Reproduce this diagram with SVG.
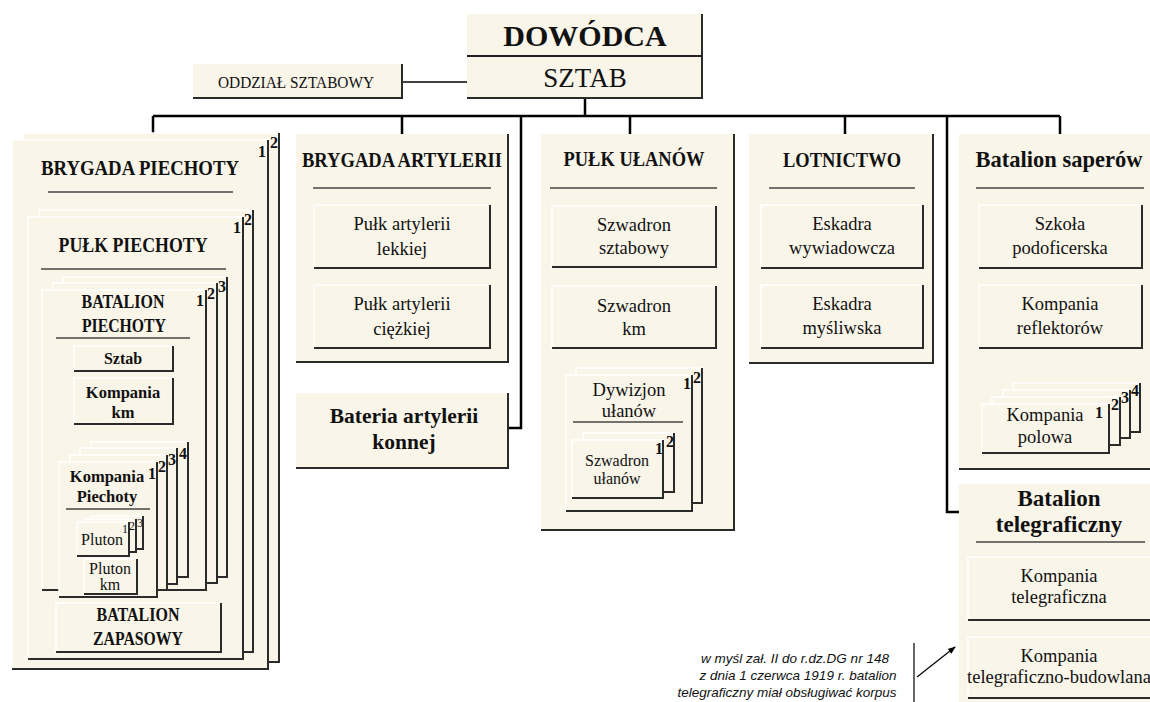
<svg xmlns="http://www.w3.org/2000/svg" width="1150" height="702" viewBox="0 0 1150 702">
<defs>
<style>
.c{fill:#f9f5e9}
.sh{fill:none;stroke:#2b2b2b;stroke-width:2}
.hl{fill:none;stroke:#ffffff;stroke-width:1.5}
.dv{stroke:#444;stroke-width:1.5}
.conn{fill:none;stroke:#000;stroke-width:2.5}
.thin{fill:none;stroke:#000;stroke-width:1.5}
text{font-family:"Liberation Serif",serif;fill:#111;text-anchor:middle}
.b{font-weight:bold}
.s18{font-size:18.5px}
.s16{font-size:16px}
.n{font-size:16px;font-weight:bold}
.ns{font-size:12px}
.note{font-family:"Liberation Sans",Arial,sans-serif;font-style:italic;font-size:13.5px}
</style>
<marker id="ah" markerWidth="8" markerHeight="8" refX="7" refY="4" orient="auto" markerUnits="userSpaceOnUse">
<path d="M0,1 L8,4 L0,7 Z" fill="#000"/>
</marker>
</defs>
<rect width="1150" height="702" fill="#fff"/>

<g id="connectors">
<path class="conn" d="M585,98 V116"/>
<path class="conn" d="M153,116 H1060"/>
<path class="conn" d="M153,116 V133"/>
<path class="conn" d="M402,116 V134"/>
<path class="conn" d="M521,116 V428 H508"/>
<path class="conn" d="M630,116 V134"/>
<path class="conn" d="M845,116 V134"/>
<path class="conn" d="M947,116 V512 H959"/>
<path class="conn" d="M1060,116 V134"/>
<path class="thin" d="M402,82 H467"/>
</g>

<g id="dowodca">
<rect class="c" x="467" y="14" width="235" height="84"/>
<path class="sh" d="M702,14 V98 H467"/>
<path class="dv" d="M467,56 H702" style="stroke:#222;stroke-width:2"/>
<text class="b" x="585" y="46" style="font-size:30px">DOWÓDCA</text>
<text x="585" y="87" style="font-size:27px">SZTAB</text>
</g>

<g id="oddzial">
<rect class="c" x="193" y="64" width="209" height="34"/>
<path class="sh" d="M402,64 V98 H193"/>
<text x="296" y="88" style="font-size:17.5px" textLength="156" lengthAdjust="spacingAndGlyphs">ODDZIAŁ SZTABOWY</text>
</g>

<g id="brygada-piechoty">
<rect class="c" x="23" y="133" width="256" height="529"/><path class="hl" d="M23,662 V133 H279"/><path class="sh" d="M279,133 V662 H23"/>
<rect class="c" x="12" y="140" width="256" height="529"/><path class="hl" d="M12,669 V140 H268"/><path class="sh" d="M268,140 V669 H12"/>
<text class="n" x="262" y="157">1</text><text class="n" x="274" y="148">2</text>
<text class="b" x="140" y="175" style="font-size:20.5px" textLength="198" lengthAdjust="spacingAndGlyphs">BRYGADA PIECHOTY</text>
<path class="dv" d="M48,192 H233"/>

<g id="pulk-piechoty">
<rect class="c" x="39" y="210" width="214" height="442"/><path class="hl" d="M39,652 V210 H253"/><path class="sh" d="M253,210 V652 H39"/>
<rect class="c" x="28" y="217" width="215" height="442"/><path class="hl" d="M28,659 V217 H243"/><path class="sh" d="M243,217 V659 H28"/>
<text class="n" x="237" y="233">1</text><text class="n" x="248" y="225">2</text>
<text class="b" x="133" y="252" style="font-size:20.5px" textLength="149" lengthAdjust="spacingAndGlyphs">PUŁK PIECHOTY</text>
<path class="dv" d="M41,269 H226"/>
</g>

<g id="batalion-piechoty">
<rect class="c" x="63" y="277" width="164" height="300"/><path class="hl" d="M63,577 V277 H227"/><path class="sh" d="M227,277 V577 H63"/>
<rect class="c" x="53" y="283" width="164" height="300"/><path class="hl" d="M53,583 V283 H217"/><path class="sh" d="M217,283 V583 H53"/>
<rect class="c" x="42" y="290" width="164" height="300"/><path class="hl" d="M42,590 V290 H206"/><path class="sh" d="M206,290 V590 H42"/>
<text class="n" x="200" y="306">1</text><text class="n" x="211" y="299">2</text><text class="n" x="222" y="292">3</text>
<text class="b" x="123" y="308" style="font-size:18px" textLength="83" lengthAdjust="spacingAndGlyphs">BATALION</text>
<text class="b" x="124" y="332" style="font-size:18px" textLength="84" lengthAdjust="spacingAndGlyphs">PIECHOTY</text>
<path class="dv" d="M56,338 H190"/>
</g>

<g id="sztab">
<rect class="c" x="74" y="346" width="99" height="25"/><path class="hl" d="M74,371 V346 H173"/><path class="sh" d="M173,346 V371 H74"/>
<text class="b s16" x="123" y="364">Sztab</text>
</g>

<g id="kompania-km">
<rect class="c" x="74" y="378" width="99" height="46"/><path class="hl" d="M74,424 V378 H173"/><path class="sh" d="M173,378 V424 H74"/>
<text class="b" x="123" y="398" style="font-size:16.5px">Kompania</text>
<text class="b" x="123" y="418" style="font-size:16.5px">km</text>
</g>

<g id="kompania-piechoty">
<rect class="c" x="91" y="442" width="97" height="135"/><path class="hl" d="M91,577 V442 H188"/><path class="sh" d="M188,442 V577 H91"/>
<rect class="c" x="80" y="448" width="97" height="136"/><path class="hl" d="M80,584 V448 H177"/><path class="sh" d="M177,448 V584 H80"/>
<rect class="c" x="70" y="455" width="97" height="135"/><path class="hl" d="M70,590 V455 H167"/><path class="sh" d="M167,455 V590 H70"/>
<rect class="c" x="59" y="462" width="98" height="135"/><path class="hl" d="M59,597 V462 H157"/><path class="sh" d="M157,462 V597 H59"/>
<text class="n" x="152" y="479">1</text><text class="n" x="162" y="472">2</text><text class="n" x="172" y="465">3</text><text class="n" x="183" y="459">4</text>
<text class="b" x="107" y="482" style="font-size:16.5px">Kompania</text>
<text class="b" x="107" y="502" style="font-size:16.5px">Piechoty</text>
<path class="dv" d="M66,509 H150"/>
</g>

<g id="pluton">
<rect class="c" x="91" y="516" width="52" height="33"/><path class="hl" d="M91,549 V516 H143"/><path class="sh" d="M143,516 V549 H91"/>
<rect class="c" x="84" y="519" width="52" height="33"/><path class="hl" d="M84,552 V519 H136"/><path class="sh" d="M136,519 V552 H84"/>
<rect class="c" x="77" y="522" width="52" height="34"/><path class="hl" d="M77,556 V522 H129"/><path class="sh" d="M129,522 V556 H77"/>
<text class="ns" x="125" y="533">1</text><text class="ns" x="132" y="530">2</text><text class="ns" x="140" y="527">3</text>
<text class="s16" x="102" y="545">Pluton</text>
</g>

<g id="pluton-km">
<rect class="c" x="84" y="559" width="53" height="35"/><path class="hl" d="M84,594 V559 H137"/><path class="sh" d="M137,559 V594 H84"/>
<text class="s16" x="110" y="574">Pluton</text>
<text class="s16" x="110" y="590">km</text>
</g>

<g id="batalion-zapasowy">
<rect class="c" x="56" y="603" width="165" height="49"/><path class="hl" d="M56,652 V603 H221"/><path class="sh" d="M221,603 V652 H56"/>
<text class="b" x="138" y="621" style="font-size:18px" textLength="83" lengthAdjust="spacingAndGlyphs">BATALION</text>
<text class="b" x="138" y="645" style="font-size:18px" textLength="90" lengthAdjust="spacingAndGlyphs">ZAPASOWY</text>
</g>
</g>

<g id="brygada-artylerii">
<rect class="c" x="296" y="134" width="212" height="228"/><path class="sh" d="M508,134 V362 H296"/>
<text class="b" x="402" y="167" style="font-size:20.5px" textLength="200" lengthAdjust="spacingAndGlyphs">BRYGADA ARTYLERII</text>
<path class="dv" d="M313,188 H491"/>
<rect class="c" x="314" y="205" width="176" height="63"/><path class="hl" d="M314,268 V205 H490"/><path class="sh" d="M490,205 V268 H314"/>
<text class="s18" x="402" y="230">Pułk artylerii</text><text class="s18" x="402" y="255">lekkiej</text>
<rect class="c" x="314" y="285" width="176" height="63"/><path class="hl" d="M314,348 V285 H490"/><path class="sh" d="M490,285 V348 H314"/>
<text class="s18" x="402" y="310">Pułk artylerii</text><text class="s18" x="402" y="335">ciężkiej</text>
</g>

<g id="bateria">
<rect class="c" x="296" y="393" width="212" height="75"/><path class="sh" d="M508,393 V468 H296"/>
<text class="b" x="404" y="423" style="font-size:21.5px">Bateria artylerii</text>
<text class="b" x="404" y="449" style="font-size:21.5px">konnej</text>
</g>

<g id="pulk-ulanow">
<rect class="c" x="541" y="134" width="193" height="396"/><path class="sh" d="M734,134 V530 H541"/>
<text class="b" x="634" y="166" style="font-size:20.5px" textLength="141" lengthAdjust="spacingAndGlyphs">PUŁK UŁANÓW</text>
<path class="dv" d="M550,188 H717"/>
<rect class="c" x="552" y="206" width="164" height="61"/><path class="hl" d="M552,267 V206 H716"/><path class="sh" d="M716,206 V267 H552"/>
<text class="s18" x="634" y="231">Szwadron</text><text class="s18" x="634" y="254">sztabowy</text>
<rect class="c" x="552" y="286" width="164" height="62"/><path class="hl" d="M552,348 V286 H716"/><path class="sh" d="M716,286 V348 H552"/>
<text class="s18" x="634" y="312">Szwadron</text><text class="s18" x="634" y="335">km</text>
<g id="dywizjon">
<rect class="c" x="576" y="368" width="126" height="135"/><path class="hl" d="M576,503 V368 H702"/><path class="sh" d="M702,368 V503 H576"/>
<rect class="c" x="566" y="375" width="126" height="136"/><path class="hl" d="M566,511 V375 H692"/><path class="sh" d="M692,375 V511 H566"/>
<text class="n" x="687" y="389">1</text><text class="n" x="697" y="383">2</text>
<text class="s18" x="629" y="396">Dywizjon</text><text class="s18" x="629" y="417">ułanów</text>
<path class="dv" d="M573,422 H683"/>
</g>
<g id="szwadron-ulanow">
<rect class="c" x="583" y="433" width="91" height="59"/><path class="hl" d="M583,492 V433 H674"/><path class="sh" d="M674,433 V492 H583"/>
<rect class="c" x="572" y="440" width="91" height="58"/><path class="hl" d="M572,498 V440 H663"/><path class="sh" d="M663,440 V498 H572"/>
<text class="n" x="659" y="454">1</text><text class="n" x="670" y="447">2</text>
<text class="s16" x="617" y="466">Szwadron</text><text class="s16" x="617" y="484">ułanów</text>
</g>
</g>

<g id="lotnictwo">
<rect class="c" x="749" y="134" width="184" height="229"/><path class="sh" d="M933,134 V363 H749"/>
<text class="b" x="842" y="167" style="font-size:20.5px" textLength="118" lengthAdjust="spacingAndGlyphs">LOTNICTWO</text>
<path class="dv" d="M769,188 H915"/>
<rect class="c" x="761" y="205" width="162" height="63"/><path class="hl" d="M761,268 V205 H923"/><path class="sh" d="M923,205 V268 H761"/>
<text class="s18" x="842" y="230">Eskadra</text><text class="s18" x="842" y="254">wywiadowcza</text>
<rect class="c" x="761" y="285" width="162" height="63"/><path class="hl" d="M761,348 V285 H923"/><path class="sh" d="M923,285 V348 H761"/>
<text class="s18" x="842" y="310">Eskadra</text><text class="s18" x="842" y="334">myśliwska</text>
</g>

<g id="batalion-saperow">
<rect class="c" x="959" y="134" width="195" height="335"/><path class="sh" d="M959,469 H1154"/>
<text class="b" x="1059" y="167" style="font-size:22.5px">Batalion saperów</text>
<path class="dv" d="M976,188 H1144"/>
<rect class="c" x="979" y="205" width="163" height="63"/><path class="hl" d="M979,268 V205 H1142"/><path class="sh" d="M1142,205 V268 H979"/>
<text class="s18" x="1060" y="230">Szkoła</text><text class="s18" x="1060" y="254">podoficerska</text>
<rect class="c" x="979" y="285" width="163" height="63"/><path class="hl" d="M979,348 V285 H1142"/><path class="sh" d="M1142,285 V348 H979"/>
<text class="s18" x="1060" y="310">Kompania</text><text class="s18" x="1060" y="334">reflektorów</text>
<g id="kompania-polowa">
<rect class="c" x="1013" y="383" width="127" height="49"/><path class="hl" d="M1013,432 V383 H1140"/><path class="sh" d="M1140,383 V432 H1013"/>
<rect class="c" x="1003" y="390" width="127" height="48"/><path class="hl" d="M1003,438 V390 H1130"/><path class="sh" d="M1130,390 V438 H1003"/>
<rect class="c" x="992" y="397" width="128" height="48"/><path class="hl" d="M992,445 V397 H1120"/><path class="sh" d="M1120,397 V445 H992"/>
<rect class="c" x="982" y="404" width="127" height="49"/><path class="hl" d="M982,453 V404 H1109"/><path class="sh" d="M1109,404 V453 H982"/>
<text class="n" x="1099" y="418">1</text><text class="n" x="1115" y="410">2</text><text class="n" x="1125" y="403">3</text><text class="n" x="1135" y="396">4</text>
<text class="s18" x="1045" y="421">Kompania</text><text class="s18" x="1045" y="443">polowa</text>
</g>
</g>

<g id="batalion-telegraficzny">
<rect class="c" x="959" y="484" width="195" height="230"/>
<text class="b" x="1059" y="506" style="font-size:23px">Batalion</text>
<text class="b" x="1059" y="532" style="font-size:23px">telegraficzny</text>
<path class="dv" d="M976,542 H1145"/>
<rect class="c" x="968" y="557" width="186" height="63"/><path class="hl" d="M968,620 V557 H1154"/><path class="sh" d="M968,620 H1154"/>
<text class="s18" x="1059" y="582">Kompania</text><text class="s18" x="1059" y="603">telegraficzna</text>
<rect class="c" x="968" y="637" width="186" height="61"/><path class="hl" d="M968,698 V637 H1154"/><path class="sh" d="M968,698 H1154"/>
<text class="s18" x="1059" y="662">Kompania</text><text class="s18" x="1059" y="683">telegraficzno-budowlana</text>
</g>

<g id="note">
<text class="note" x="795" y="663">w myśl zał. II do r.dz.DG nr 148</text>
<text class="note" x="798" y="680">z dnia 1 czerwca 1919 r. batalion</text>
<text class="note" x="787" y="697">telegraficzny miał obsługiwać korpus</text>
<path class="thin" d="M914,643 V702" style="stroke-width:1.2"/>
<path class="thin" d="M917,677 L955,647" style="stroke-width:1.2" marker-end="url(#ah)"/>
</g>
</svg>
